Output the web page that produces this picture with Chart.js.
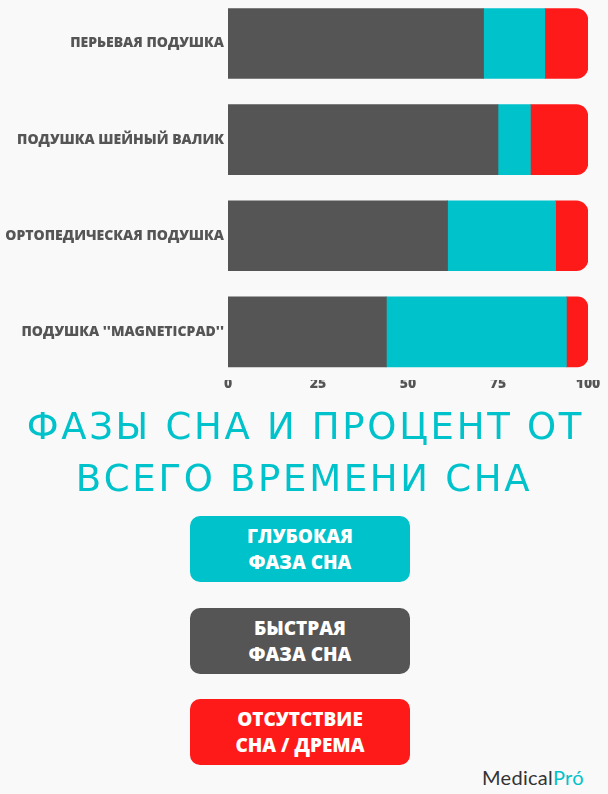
<!DOCTYPE html>
<html>
<head>
<meta charset="utf-8">
<script src="https://cdn.jsdelivr.net/npm/chart.js@4"></script>
<style>
  html, body { margin: 0; padding: 0; background: #f9f9f9; }
  body { width: 608px; height: 794px; position: relative; overflow: hidden; font-family: "Open Sans", sans-serif; }
  .chart-box { position: absolute; left: 0; top: -17px; width: 608px; height: 427px; }
  .title {
    position: absolute; left: 0; width: 608px; top: 401px; text-align: center;
    color: #00c2cb; font-family: "DejaVu Sans", sans-serif; font-size: 37px; line-height: 52px;
    letter-spacing: 2.7px; text-indent: 2.7px;
  }
  .key {
    position: absolute; left: 190px; width: 220px; height: 66px; border-radius: 10px;
    color: #fff; font-weight: 800; font-size: 19px; line-height: 26px; text-align: center;
    display: flex; align-items: center; justify-content: center;
  }
  .logo { position: absolute; left: 482px; top: 765px; font-family: "Lato", sans-serif; font-size: 20px; color: #333; letter-spacing: 0.3px; }
  .logo span { color: #00c2cb; }
</style>
</head>
<body>
<div class="chart-box"><canvas id="chart" width="608" height="427"></canvas></div>

<div class="title">ФАЗЫ СНА И ПРОЦЕНТ ОТ<br>ВСЕГО ВРЕМЕНИ СНА</div>

<div class="key" style="top:516px;background:#00c2cb">ГЛУБОКАЯ<br>ФАЗА СНА</div>
<div class="key" style="top:608px;background:#555555">БЫСТРАЯ<br>ФАЗА СНА</div>
<div class="key" style="top:699px;background:#ff1a1a">ОТСУТСТВИЕ<br>СНА / ДРЕМА</div>

<div class="logo">Medical<span>Pró</span></div>

<script>
const categories = [
  'ПЕРЬЕВАЯ ПОДУШКА',
  'ПОДУШКА ШЕЙНЫЙ ВАЛИК',
  'ОРТОПЕДИЧЕСКАЯ ПОДУШКА',
  "ПОДУШКА ''MAGNETICPAD''"
];
const fastPhase = [71, 75, 61, 44];
const deepPhase = [17, 9, 30, 50];
const noSleep = [12, 16, 9, 6];
const xTicks = [0, 25, 50, 75, 100];

const ctx = document.getElementById('chart').getContext('2d');

new Chart(ctx, {
  type: 'bar',
  data: {
    labels: categories,
    datasets: [
      { label: 'Быстрая фаза сна', data: fastPhase, backgroundColor: '#555555' },
      { label: 'Глубокая фаза сна', data: deepPhase, backgroundColor: '#00c2cb' },
      {
        label: 'Отсутствие сна / дрема',
        data: noSleep,
        backgroundColor: '#ff1a1a',
        borderRadius: { topRight: 12, bottomRight: 12, topLeft: 0, bottomLeft: 0 },
        borderSkipped: false,
      },
    ],
  },
  options: {
    indexAxis: 'y',
    responsive: false,
    animation: false,
    barThickness: 70,
    layout: { padding: { top: 0, right: 20, left: 0, bottom: 0 } },
    scales: {
      x: {
        stacked: true,
        min: 0,
        max: 100,
        afterBuildTicks: scale => { scale.ticks = xTicks.map(v => ({ value: v })); },
        afterFit: scale => { scale.height = 30; },
        grid: { display: false, drawTicks: false },
        border: { display: false },
        ticks: {
          padding: -4,
          color: '#555555',
          font: { family: 'Open Sans', weight: '800', size: 14 },
        },
      },
      y: {
        stacked: true,
        afterFit: scale => { scale.width = 228; },
        grid: { display: false, drawTicks: false },
        border: { display: false },
        ticks: {
          padding: 4,
          color: '#555555',
          font: { family: 'Open Sans', weight: '800', size: 14 },
        },
      },
    },
    plugins: {
      legend: { display: false },
      tooltip: { enabled: false },
    },
  },
});
</script>
</body>
</html>
